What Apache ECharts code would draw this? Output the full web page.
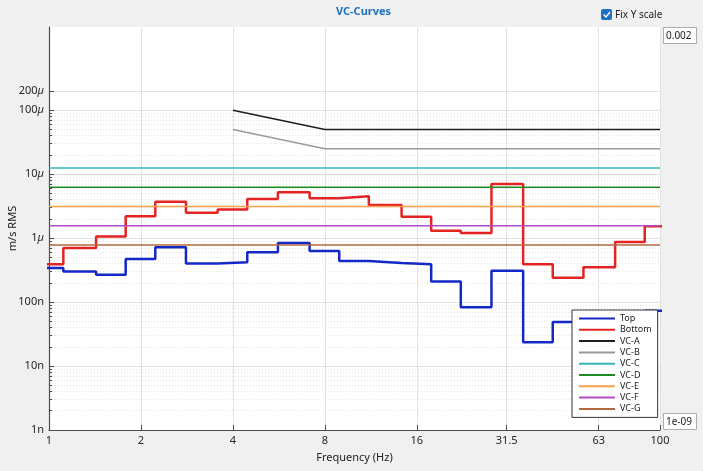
<!DOCTYPE html>
<html>
<head>
<meta charset="utf-8">
<script src="https://cdn.jsdelivr.net/npm/echarts@6/dist/echarts.min.js"></script>
<style>
  html, body { margin: 0; padding: 0; background: #f0f0f0; }
  #chart { width: 703px; height: 471px; }
</style>
</head>
<body>
<div id="chart"></div>
<script>
// third-octave band centres (Hz)
const bandCenters = [1, 1.25, 1.6, 2, 2.5, 3.15, 4, 5, 6.3, 8, 10, 12.5, 16, 20, 25, 31.5, 40, 50, 63, 80, 100]
// measured levels, m/s RMS
const topVals = [3.4e-7, 3.0e-7, 2.67e-7, 4.7e-7, 7.2e-7, 4.0e-7, 4.2e-7, 6.0e-7, 8.4e-7, 6.3e-7, 4.4e-7,
  4.1e-7, 3.9e-7, 2.1e-7, 8.3e-8, 3.1e-7, 2.35e-8, 4.9e-8, 5.0e-8, 6.0e-8, 7.3e-8]
const bottomVals = [3.9e-7, 7.0e-7, 1.06e-6, 2.2e-6, 3.7e-6, 2.5e-6, 2.8e-6, 4.1e-6, 5.2e-6, 4.2e-6, 4.5e-6,
  3.3e-6, 2.15e-6, 1.3e-6, 1.2e-6, 7.0e-6, 3.9e-7, 2.4e-7, 3.5e-7, 8.7e-7, 1.54e-6]

// VC criteria
const vcSlopeFreq = [4, 8, 100]
const vcA = [1e-4, 5e-5, 5e-5]
const vcB = [5e-5, 2.5e-5, 2.5e-5]
const vcFlatFreq = [1, 100]
const vcFlatNames = ['VC-C', 'VC-D', 'VC-E', 'VC-F', 'VC-G']
const vcFlatLevels = [12.5e-6, 6.25e-6, 3.12e-6, 1.56e-6, 0.78e-6]

// axis ticks
const xTickValues = [1, 2, 4, 8, 16, 31.5, 63, 100]
const xTickLabels = ['1', '2', '4', '8', '16', '31.5', '63', '100']
const yTickValues = [1e-9, 1e-8, 1e-7, 1e-6, 1e-5, 1e-4, 2e-4]
const yTickLabels = ['1n', '10n', '100n', '1µ', '10µ', '100µ', '200µ']

const colors = {
  Top: '#1428c8', Bottom: '#e42323', 'VC-A': '#1e1e1e', 'VC-B': '#9a9a9a',
  'VC-C': '#35b6bf', 'VC-D': '#1f8a1f', 'VC-E': '#f5a24e', 'VC-F': '#b24cc4', 'VC-G': '#b46a42'
}

let minorY = []
for (let k = -9; k <= -5; k++) {
  for (let m = 2; m <= 9; m++) minorY.push(m * Math.pow(10, k))
}

// step data: each band spans its lower edge to its upper edge
const stepData = (vals) => {
  let d = bandCenters.map((c, i) => [c * Math.pow(10, -0.05), vals[i]])
  d.push([bandCenters[bandCenters.length - 1] * Math.pow(10, 0.05), vals[vals.length - 1]])
  return d
}

const pickLabel = (v, values, labels) => {
  let i = values.findIndex(t => Math.abs(t - v) / t < 1e-6)
  return i === -1 ? '' : labels[i]
}

let series = [
  { name: 'Top', data: stepData(topVals), width: 2.5 },
  { name: 'Bottom', data: stepData(bottomVals), width: 2.5 },
  { name: 'VC-A', data: vcSlopeFreq.map((f, i) => [f, vcA[i]]), width: 1.5 },
  { name: 'VC-B', data: vcSlopeFreq.map((f, i) => [f, vcB[i]]), width: 1.5 }
]
vcFlatNames.forEach((n, i) => {
  series.push({ name: n, data: vcFlatFreq.map(f => [f, vcFlatLevels[i]]), width: 1.5 })
})

const chart = echarts.init(document.getElementById('chart'))
chart.setOption({
  animation: false,
  backgroundColor: '#f0f0f0',
  textStyle: { fontFamily: 'Noto Sans, DejaVu Sans, sans-serif' },
  title: {
    text: 'VC-Curves',
    left: 331, top: 1,
    textStyle: { fontSize: 11, fontWeight: 'bold', color: '#1f72bd' }
  },
  grid: {
    left: 49, right: 43, top: 27, bottom: 41,
    containLabel: false, outerBoundsMode: 'none',
    show: true, backgroundColor: '#fff', borderWidth: 0
  },
  legend: {
    orient: 'vertical',
    left: 572, top: 310,
    backgroundColor: '#fff',
    borderColor: '#333', borderWidth: 1, borderRadius: 0,
    padding: [4, 6, 4, 6],
    itemWidth: 36, itemHeight: 9, itemGap: 2.3,
    itemStyle: { opacity: 0 },
    textStyle: { fontSize: 9, color: '#222', lineHeight: 9 },
    data: series.map(s => s.name)
  },
  xAxis: {
    type: 'log', logBase: 10, min: 1, max: 100,
    name: 'Frequency (Hz)', nameLocation: 'middle', nameGap: 22,
    nameMoveOverlap: false,
    nameTextStyle: { fontSize: 11, color: '#222' },
    axisLine: { lineStyle: { color: '#4d4d4d', width: 1.2 } },
    axisTick: { inside: true, length: 5, customValues: xTickValues, lineStyle: { color: '#4d4d4d' } },
    axisLabel: {
      customValues: xTickValues, margin: 5, fontSize: 11, color: '#262626',
      formatter: v => pickLabel(v, xTickValues, xTickLabels)
    },
    splitLine: { show: true, lineStyle: { color: '#e2e2e2', width: 1 } }
  },
  yAxis: [
    {
      type: 'log', logBase: 10, min: 1e-9, max: 2e-3,
      name: 'm/s RMS', nameLocation: 'middle', nameGap: 31,
      nameMoveOverlap: false,
      nameTextStyle: { fontSize: 11, color: '#222' },
      axisLine: { show: true, lineStyle: { color: '#4d4d4d', width: 1.2 } },
      axisTick: { inside: true, length: 5, customValues: yTickValues, lineStyle: { color: '#4d4d4d' } },
      axisLabel: {
        customValues: yTickValues, margin: 5, fontSize: 11, color: '#262626',
        formatter: v => pickLabel(v, yTickValues, yTickLabels).replace('µ', '{u|µ}'),
        rich: { u: { fontStyle: 'italic', fontSize: 11, color: '#262626' } }
      },
      splitLine: { show: true, lineStyle: { color: '#e2e2e2', width: 1 } }
    },
    {
      // minor ticks and dotted grid
      type: 'log', logBase: 10, min: 1e-9, max: 2e-3,
      position: 'left', offset: 0,
      axisLine: { show: false },
      axisTick: { show: true, inside: true, length: 3, customValues: minorY, lineStyle: { color: '#4d4d4d' } },
      axisLabel: { show: false },
      splitLine: { show: true, lineStyle: { color: '#e4e4e4', width: 1, type: [1, 2] } }
    }
  ],
  series: series.map(s => ({
    name: s.name,
    type: 'line',
    step: s.name === 'Top' || s.name === 'Bottom' ? 'end' : false,
    symbol: 'none',
    data: s.data,
    color: colors[s.name],
    lineStyle: { width: s.width, color: colors[s.name] }
  })),
  graphic: [
    { type: 'rect', shape: { x: 601, y: 9, width: 11, height: 11, r: 2 }, style: { fill: '#1f6fc5' } },
    { type: 'polyline', shape: { points: [[603.5, 14.5], [606, 17], [610, 12]] }, style: { stroke: '#fff', lineWidth: 1.5, fill: null } },
    { type: 'text', x: 615, y: 15, style: { text: 'Fix Y scale', fontSize: 10, fill: '#222', verticalAlign: 'middle', fontFamily: 'Noto Sans' } },
    { type: 'rect', shape: { x: 663.5, y: 27.5, width: 33, height: 16 }, style: { fill: '#fff', stroke: '#adadad', lineWidth: 1 } },
    { type: 'text', x: 666, y: 36, style: { text: '0.002', fontSize: 10, fill: '#222', verticalAlign: 'middle', fontFamily: 'Noto Sans' } },
    { type: 'rect', shape: { x: 663.5, y: 413.5, width: 33, height: 16 }, style: { fill: '#fff', stroke: '#adadad', lineWidth: 1 } },
    { type: 'text', x: 666, y: 422, style: { text: '1e-09', fontSize: 10, fill: '#222', verticalAlign: 'middle', fontFamily: 'Noto Sans' } }
  ]
})
</script>
</body>
</html>
